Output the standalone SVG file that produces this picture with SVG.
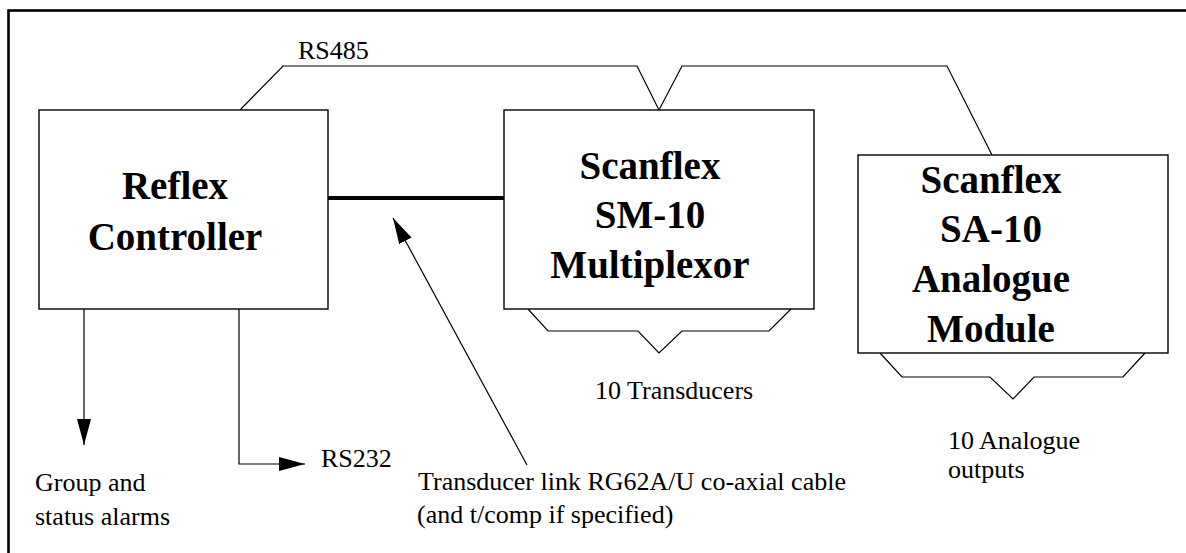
<svg xmlns="http://www.w3.org/2000/svg" width="1186" height="553" viewBox="0 0 1186 553">
<style>
.box{fill:#fff;stroke:#000;stroke-width:1.4}
.ln{fill:none;stroke:#000;stroke-width:1.2}
.bt{font-family:"Liberation Serif","Times New Roman",serif;font-weight:bold;font-size:39px;fill:#000;text-anchor:middle}
.t{font-family:"Liberation Serif","Times New Roman",serif;font-size:26px;fill:#000}
</style>
<defs>
<marker id="ah" markerWidth="26" markerHeight="14" refX="26" refY="7" orient="auto" markerUnits="userSpaceOnUse">
<path d="M0,0 L26,7 L0,14 Z" fill="#000"/>
</marker>
</defs>
<rect x="0" y="0" width="1186" height="553" fill="#fff"/>
<rect x="8.5" y="10.5" width="1200" height="600" fill="none" stroke="#000" stroke-width="2.6"/>
<g id="connectors">
<polyline class="ln" points="240,110 283,66 637,66 659,110 682,66 947,66 992,155"/>
<line x1="328" y1="198" x2="504" y2="198" stroke="#000" stroke-width="4"/>
<line class="ln" x1="84" y1="309" x2="84" y2="445" marker-end="url(#ah)"/>
<polyline class="ln" points="239,309 239,464 305,464" marker-end="url(#ah)"/>
<line class="ln" x1="527" y1="465" x2="393" y2="218" marker-end="url(#ah)"/>
<polyline class="ln" points="528,309 548,331 638,331 659,353 682,331 769,331 791,309"/>
<polyline class="ln" points="880,353 902,377 990,377 1013,399 1034,377 1123,377 1145,353"/>
</g>
<g id="reflex">
<rect class="box" x="39" y="110" width="289" height="199"/>
<text class="bt" x="175" y="199">Reflex</text>
<text class="bt" x="175" y="250">Controller</text>
</g>
<g id="sm10">
<rect class="box" x="504" y="110" width="310" height="199"/>
<text class="bt" x="650" y="179">Scanflex</text>
<text class="bt" x="650" y="228">SM-10</text>
<text class="bt" x="650" y="278">Multiplexor</text>
</g>
<g id="sa10">
<rect class="box" x="858" y="155" width="310" height="198"/>
<text class="bt" x="991" y="193">Scanflex</text>
<text class="bt" x="991" y="242">SA-10</text>
<text class="bt" x="991" y="292">Analogue</text>
<text class="bt" x="991" y="342">Module</text>
</g>
<g id="labels">
<text class="t" x="298" y="59">RS485</text>
<text class="t" x="321" y="467">RS232</text>
<text class="t" x="35" y="491">Group and</text>
<text class="t" x="35" y="525">status alarms</text>
<text class="t" x="595" y="399">10 Transducers</text>
<text class="t" x="418" y="490">Transducer link RG62A/U co-axial cable</text>
<text class="t" x="417" y="523">(and t/comp if specified)</text>
<text class="t" x="948" y="449">10 Analogue</text>
<text class="t" x="948" y="478">outputs</text>
</g>
</svg>
